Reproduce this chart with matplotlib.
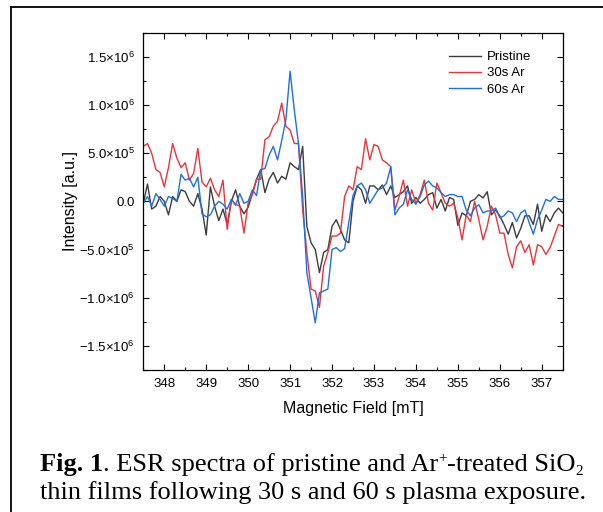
import numpy as np
import matplotlib
matplotlib.use("Agg")
import matplotlib.pyplot as plt
from matplotlib.ticker import MultipleLocator, FuncFormatter
from matplotlib.lines import Line2D

plt.rcParams['font.family'] = ['Liberation Sans', 'DejaVu Sans']
plt.rcParams['mathtext.fontset'] = 'custom'
plt.rcParams['mathtext.rm'] = 'Liberation Sans'
plt.rcParams['mathtext.it'] = 'Liberation Sans:italic'
plt.rcParams['mathtext.bf'] = 'Liberation Sans:bold'

# Magnetic field grid (mT)
field = np.round(np.arange(347.5, 357.5001, 0.1), 2)

SCALE = 1e5  # values below are in units of 1e5 a.u.

pristine = [
    -0.2, 1.8, -0.8, -0.5, 0.5, 0.0, -1.4, 0.5, 0.0, 1.2,
    1.0, 0.0, -0.5, 0.8, -0.8, -3.5, 1.5, -0.5, -2.0, -0.8,
    -2.4, 0.0, 1.2, -0.5, -1.3, -0.6, 0.8, 2.3, 3.3, 0.9,
    2.3, 3.0, 1.9, 2.6, 2.3, 4.0, 3.6, 3.3, 5.7, -2.6,
    -4.3, -5.0, -7.4, -5.3, -5.0, -2.6, -1.9, -2.9, -4.0, -4.3,
    0.0, 1.6, 1.2, -0.2, 1.6, 1.6, 1.2, 1.7, 0.7, 1.6,
    0.4, 0.7, 1.0, 1.6, -0.2, 0.4, -0.2, 0.2, 0.7, 0.9,
    -0.7, 0.2, -1.0, 0.4, 0.2, -2.5, -1.2, -1.5, 0.0, 0.2,
    0.7, 0.35, 1.0, -1.4, -0.9, -1.5, -2.4, -3.4, -2.2, -3.8,
    -2.8, -1.5, -1.5, -2.4, -0.3, -3.1, -1.4, -2.1, -1.2, -0.7,
    -1.2,
]

ar30 = [
    5.7, 6.0, 5.0, 3.3, 3.0, 1.5, 3.5, 6.0, 4.5, 3.5,
    4.0, 2.2, 2.9, 5.5, 2.0, 1.5, 2.4, 1.2, 0.5, 2.2,
    -2.9, 0.2, -0.3, -0.5, -3.3, -0.2, 0.7, 2.3, 2.3, 6.4,
    6.7, 7.8, 8.3, 10.2, 7.8, 7.4, 6.0, 6.0, -0.9, -5.3,
    -9.1, -9.3, -11.0, -6.7, -5.3, -3.6, -3.6, -3.3, 0.5, 1.6,
    1.2, 3.6, 3.3, 6.5, 4.3, 5.9, 5.7, 4.3, 4.0, 3.6,
    -0.9, 0.5, 2.2, -0.5, 1.2, -0.2, 0.7, 2.2, -0.2, -0.9,
    1.9, 0.9, -0.2, -0.5, -0.2, -1.7, -4.0, -1.4, -2.1, 0.0,
    -1.9, -4.0, -2.6, -0.5, -1.4, -3.3, -3.3, -5.5, -6.9, -4.7,
    -4.1, -5.3, -4.5, -6.6, -4.5, -4.7, -5.5, -4.8, -3.6, -2.4,
    -2.6,
]

ar60 = [
    -0.2, 0.5, -0.5, 0.8, 0.2, -0.5, 0.5, 0.3, 0.0, 2.8,
    2.2, 2.4, 1.5, 2.5, -1.3, -1.6, -1.4, -0.5, 0.0, -0.3,
    -0.8, 0.2, -0.4, 0.8, -0.2, 0.0, 1.2, 0.6, 3.3, 3.4,
    4.8, 5.7, 4.3, 6.3, 8.5, 13.5, 9.5, 6.0, 0.5, -7.4,
    -10.0, -12.6, -9.5, -9.3, -9.1, -5.0, -4.8, -5.2, -4.9, -2.2,
    0.6, 1.6, 1.9, 1.2, -0.2, 0.5, 1.2, 1.4, 1.9, 3.6,
    -1.4, -0.7, -0.3, 1.2, 0.2, -0.3, 0.5, 1.7, 2.1, 1.6,
    1.4, 0.9, 0.5, 0.7, 0.7, 0.5, 0.5, -0.9, -1.5, -0.7,
    -0.35, -1.2, -1.0, -1.0, -0.7, -1.7, -1.5, -1.0, -1.2, -2.1,
    -1.2, -0.9, -2.2, -3.4, -1.9, -0.9, 0.2, 0.0, 0.5, 0.2,
    0.2,
]

labels = ["Pristine", "30s Ar", "60s Ar"]
colors = ["#3c3c3c", "#e8343c", "#1f6fe0"]
series = [pristine, ar30, ar60]

W, H = 603, 512
fig = plt.figure(figsize=(W / 100, H / 100), dpi=100)
ax = fig.add_axes([143.3 / W, 1 - 370 / H, (562.7 - 143.3) / W, (370 - 32.7) / H])

for vals, c, lab in zip(series, colors, labels):
    ax.plot(field, np.array(vals) * SCALE, color=c, lw=1.0, label=lab)

ax.set_xlim(347.5, 357.5)
ax.set_ylim(-1.75e6, 1.75e6)
ax.xaxis.set_major_locator(MultipleLocator(1))
ax.xaxis.set_minor_locator(MultipleLocator(0.5))
ax.yaxis.set_major_locator(MultipleLocator(5e5))
ax.yaxis.set_minor_locator(MultipleLocator(2.5e5))


def yfmt(v, pos):
    if abs(v) < 1:
        return "0.0"
    e = int(np.floor(np.log10(abs(v)) + 1e-9))
    m = v / 10 ** e
    sign = "\u2212" if m < 0 else ""
    return r"%s%.1f$\times$10$^{%d}$" % (sign, abs(m), e)


ax.yaxis.set_major_formatter(FuncFormatter(yfmt))
ax.tick_params(which='both', direction='in', top=True, right=True, width=0.8,
               labelsize=9.5, colors='black')
ax.tick_params(which='major', length=4.5, pad=6)
ax.tick_params(which='minor', length=2.5)
for s in ax.spines.values():
    s.set_linewidth(0.9)

ax.set_xlabel("Magnetic Field [mT]", fontsize=11.5, labelpad=8)
ax.set_ylabel("Intensity [a.u.]", fontsize=11.5, labelpad=1)

leg = ax.legend(loc='upper left', bbox_to_anchor=(449 / W, 1 - 51 / H),
                bbox_transform=fig.transFigure, frameon=False, fontsize=9.5,
                borderpad=0, borderaxespad=0, labelspacing=0.3,
                handlelength=2.4, handletextpad=0.5)

# outer frame of the figure panel
fig.add_artist(Line2D([11 / W, 11 / W], [0, 1 - 7 / H], transform=fig.transFigure,
                      color='black', lw=1.3))
fig.add_artist(Line2D([11 / W, 1], [1 - 7 / H, 1 - 7 / H], transform=fig.transFigure,
                      color='black', lw=1.3))

# caption, built from segments (text, weight, size factor, baseline shift in px)
CAP_SIZE = 19
serif = ['Liberation Serif', 'DejaVu Serif']
line1 = [("Fig. 1", 'bold', 1.0, 0),
         (". ESR spectra of pristine and Ar", 'normal', 1.0, 0),
         ("+", 'normal', 0.58, 9),
         ("-treated SiO", 'normal', 1.0, 0),
         ("2", 'normal', 0.58, -4)]
line2 = [("thin films following 30 s and 60 s plasma exposure.", 'normal', 1.0, 0)]

renderer = fig.canvas.get_renderer()


def draw_line(segs, x0, baseline):
    x = x0
    for txt, wt, fac, dy in segs:
        t = fig.text(x / W, 1 - (baseline - dy) / H, txt, fontsize=CAP_SIZE * fac,
                     family=serif, weight=wt, color='black', va='baseline', ha='left')
        bb = t.get_window_extent(renderer=renderer)
        x += bb.width


draw_line(line1, 40, 471)
draw_line(line2, 40, 499)

fig.savefig("out.png", dpi=100)
